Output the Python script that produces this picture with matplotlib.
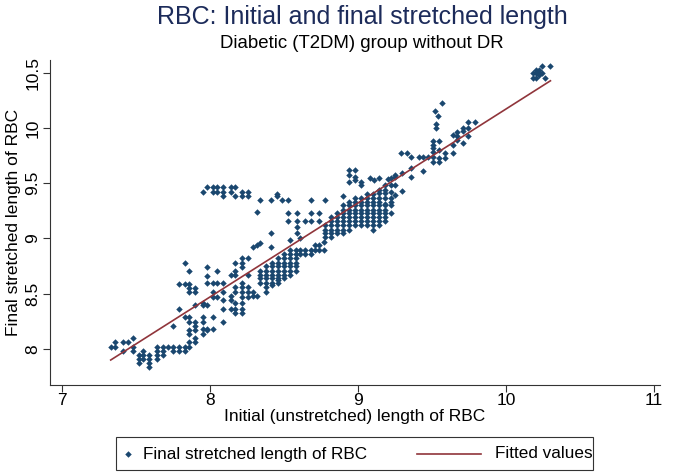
import numpy as np
import matplotlib.pyplot as plt
from matplotlib.lines import Line2D
from matplotlib.patches import Rectangle

plt.rcParams['font.family'] = ['Liberation Sans', 'DejaVu Sans']

# initial length -> final stretched lengths (columns of points)
columns = [
    (7.33, [8.02]),
    (7.36, [8.06, 8.02]),
    (7.41, [8.06, 7.98]),
    (7.45, [8.06]),
    (7.48, [8.10, 8.02, 7.98]),
    (7.52, [7.95, 7.91, 7.87]),
    (7.55, [7.98, 7.95, 7.91]),
    (7.59, [7.95, 7.91, 7.87, 7.84]),
    (7.64, [8.02, 7.98, 7.95, 7.91]),
    (7.68, [8.02, 7.98, 7.95]),
    (7.72, [8.02]),
    (7.75, [8.02, 7.98, 8.21]),
    (7.79, [8.02, 7.98, 8.36, 8.59]),
    (7.83, [8.02, 7.98, 8.29, 8.59, 8.78]),
    (7.86, [8.06, 8.02, 8.14, 8.17, 8.24, 8.29, 8.52, 8.55, 8.59, 8.71]),
    (7.90, [8.10, 8.06, 8.17, 8.21, 8.24, 8.40, 8.52, 8.55]),
    (7.95, [8.14, 8.18, 8.29, 8.24, 8.40, 8.42, 9.42]),
    (7.98, [8.17, 8.18, 8.40, 8.60, 8.66, 8.74, 9.47]),
    (8.02, [8.18, 8.29, 8.47, 8.52, 8.60, 9.42, 9.47]),
    (8.05, [8.47, 8.60, 8.71, 9.42, 9.47]),
    (8.09, [8.24, 8.36, 8.44, 8.52, 8.60, 9.47, 9.42, 9.38]),
    (8.14, [8.36, 8.44, 8.48, 8.67, 9.42, 9.47]),
    (8.17, [8.33, 8.36, 8.42, 8.52, 8.56, 8.67, 8.71, 8.78, 9.47, 9.38]),
    (8.22, [8.33, 8.36, 8.42, 8.47, 8.52, 8.56, 8.60, 8.74, 8.78, 8.82,
            9.42, 9.38]),
    (8.26, [8.47, 8.52, 8.56, 8.67, 8.82, 9.42, 9.38]),
    (8.29, [8.48, 8.52, 8.92]),
    (8.32, [8.48, 8.94, 9.24]),
    (8.34, [8.60, 8.64, 8.67, 8.71, 8.96, 9.35]),
    (8.38, [8.52, 8.56, 8.60, 8.64, 8.67, 8.71, 8.75]),
    (8.41, [9.05, 8.92, 9.35]),
    (8.42, [8.58, 8.60, 8.64, 8.67, 8.71, 8.75, 8.78]),
    (8.45, [9.38, 9.40]),
    (8.46, [8.62, 8.60, 8.64, 8.67, 8.71, 8.75, 8.78, 8.82]),
    (8.49, [9.35]),
    (8.50, [8.64, 8.67, 8.71, 8.75, 8.78, 8.82, 8.86]),
    (8.53, [9.35, 9.23, 9.16]),
    (8.54, [8.67, 8.71, 8.75, 8.78, 8.82, 8.86, 8.90, 8.99]),
    (8.58, [8.71, 8.75, 8.78, 8.82, 8.86, 8.90]),
    (8.59, [9.23, 9.16, 9.10, 9.05]),
    (8.61, [8.86, 8.90, 9.00]),
    (8.64, [8.86, 8.90, 9.16]),
    (8.68, [8.86, 8.90, 9.23, 9.16, 9.35]),
    (8.71, [8.90, 8.94]),
    (8.74, [8.90, 8.94, 9.23, 9.16]),
    (8.77, [8.90, 8.97]),
    (8.78, [9.01, 9.05, 9.08, 9.12, 9.35]),
    (8.82, [9.01, 9.05, 9.08, 9.12, 9.16, 9.19]),
    (8.86, [9.05, 9.08, 9.12, 9.16, 9.19, 9.23]),
    (8.90, [9.05, 9.08, 9.12, 9.16, 9.19, 9.23, 9.26, 9.30, 9.38]),
    (8.94, [9.08, 9.12, 9.16, 9.19, 9.23, 9.26, 9.30, 9.33, 9.51, 9.57,
            9.62]),
    (8.98, [9.12, 9.16, 9.19, 9.23, 9.26, 9.30, 9.33, 9.37, 9.53, 9.56,
            9.62]),
    (9.02, [9.12, 9.16, 9.19, 9.23, 9.26, 9.30, 9.33, 9.37, 9.48, 9.51]),
    (9.06, [9.12, 9.16, 9.19, 9.23, 9.26, 9.30, 9.33, 9.37, 9.40]),
    (9.08, [9.55]),
    (9.10, [9.08, 9.12, 9.16, 9.19, 9.23, 9.26, 9.30, 9.33, 9.37, 9.40]),
    (9.11, [9.53]),
    (9.14, [9.12, 9.16, 9.19, 9.23, 9.26, 9.30, 9.33, 9.37, 9.41, 9.44,
            9.55]),
    (9.18, [9.16, 9.19, 9.23, 9.26, 9.30, 9.37, 9.41, 9.44, 9.48, 9.31]),
    (9.20, [9.54]),
    (9.22, [9.23, 9.30, 9.33, 9.37, 9.42, 9.48, 9.55]),
    (9.25, [9.39, 9.48, 9.56, 9.57]),
    (9.29, [9.77]),
    (9.30, [9.43, 9.59]),
    (9.33, [9.77]),
    (9.36, [9.56, 9.64, 9.74]),
    (9.41, [9.74]),
    (9.44, [9.61, 9.74]),
    (9.47, [9.74]),
    (9.51, [9.69, 9.74, 9.78, 9.82, 9.85, 9.88]),
    (9.52, [10.15]),
    (9.53, [10.04, 10.00]),
    (9.54, [10.11]),
    (9.55, [9.69, 9.73, 9.80, 9.88]),
    (9.57, [10.23]),
    (9.59, [9.73, 9.77]),
    (9.64, [9.77, 9.85, 9.94]),
    (9.67, [9.89, 9.96, 9.93]),
    (9.71, [9.86, 10.00, 9.97]),
    (9.74, [9.93, 10.00, 10.05]),
    (9.79, [10.05]),
    (10.18, [10.45, 10.50]),
    (10.20, [10.45, 10.50, 10.52]),
    (10.22, [10.48, 10.50, 10.52]),
    (10.24, [10.50, 10.56]),
    (10.26, [10.45]),
    (10.30, [10.56]),
]

initial = np.array([x for x, ys in columns for _ in ys])
final = np.array([y for _, ys in columns for y in ys])

x_ticks = [7, 8, 9, 10, 11]
y_ticks = [8, 8.5, 9, 9.5, 10, 10.5]
y_labels = ['8', '8.5', '9', '9.5', '10', '10.5']

navy = '#1a476f'
maroon = '#90353b'

fig = plt.figure(figsize=(6.75, 4.75), dpi=100)
ax = fig.add_axes([50 / 675, 1 - 385 / 475, 610 / 675, 325 / 475])

ax.plot(initial, final, linestyle='none', marker='D', markersize=3.3,
        color=navy, markeredgewidth=0)

slope, intercept = np.polyfit(initial, final, 1)
fx = np.array([initial.min(), initial.max()])
ax.plot(fx, intercept + slope * fx, color=maroon, lw=1.2)

ax.set_xlim(6.92, 11.04)
ax.set_ylim(7.674, 10.615)
ax.set_xticks(x_ticks)
ax.set_yticks(y_ticks)
ax.set_yticklabels(y_labels, rotation=90, va='center')
ax.tick_params(labelsize=12.5, length=5, width=0.8, color='#333333',
               labelcolor='black', pad=2)
ax.tick_params(axis='x', pad=0.5)
for side in ['top', 'right']:
    ax.spines[side].set_visible(False)
for side in ['left', 'bottom']:
    ax.spines[side].set_color('#333333')
    ax.spines[side].set_linewidth(0.8)

ax.set_xlabel('Initial (unstretched) length of RBC', fontsize=12.5,
              labelpad=1)
ax.set_ylabel('Final stretched length of RBC', fontsize=12.5, labelpad=3)

fig.text(362 / 675, 1 - 17 / 475, 'RBC: Initial and final stretched length',
         ha='center', va='center', fontsize=18, color='#1c2b5a')
fig.text(362 / 675, 1 - 43 / 475, 'Diabetic (T2DM) group without DR',
         ha='center', va='center', fontsize=13.4, color='black')

# legend box drawn by hand, Stata style
W, H = 675.0, 475.0
fig.patches.append(Rectangle((116 / W, 1 - 470 / H), 477 / W, 33 / H,
                             transform=fig.transFigure, fill=False,
                             edgecolor='#333333', lw=0.8))
fig.lines.append(Line2D([128 / W], [1 - 454 / H], marker='D',
                        markersize=3.3, color=navy, markeredgewidth=0,
                        transform=fig.transFigure))
fig.text(143 / W, 1 - 454 / H, 'Final stretched length of RBC',
         ha='left', va='center', fontsize=12.3)
fig.lines.append(Line2D([417 / W, 481 / W], [1 - 454 / H, 1 - 454 / H],
                        color=maroon, lw=1.2, transform=fig.transFigure))
fig.text(495 / W, 1 - 454 / H, 'Fitted values',
         ha='left', va='center', fontsize=12.3)

fig.savefig('out.png', dpi=100, facecolor='white')
